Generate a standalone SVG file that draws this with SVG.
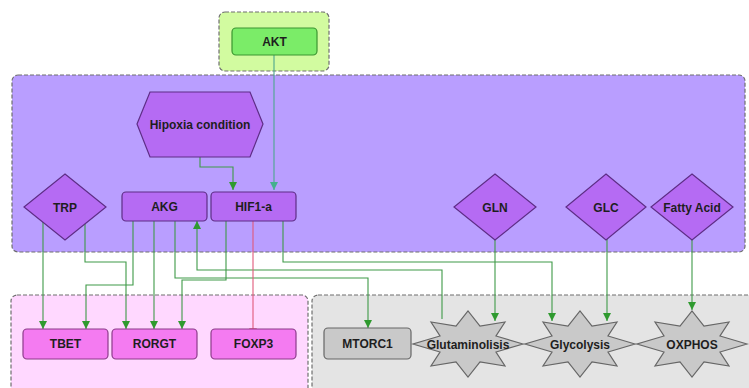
<svg xmlns="http://www.w3.org/2000/svg" width="749" height="388" viewBox="0 0 749 388">
<style>
.region{stroke:#6f6f6f;stroke-width:1.2;stroke-dasharray:4 2}
.lbl{font-family:"Liberation Sans",Arial,sans-serif;font-weight:bold;font-size:12px;fill:#1e1e1e;text-anchor:middle;dominant-baseline:central}
.pnode{fill:#b56bf3;stroke:#5e2d86;stroke-width:1.2}
.knode{fill:#f47bf1;stroke:#8c3b8a;stroke-width:1.2}
.gnode{fill:#c9c9c9;stroke:#666;stroke-width:1.2}
.anode{fill:#7bec68;stroke:#3a9530;stroke-width:1.2}
.edge{fill:none;stroke:#3f9a48;stroke-width:1.1}
.teal{stroke:#4ba68d}
.inh{fill:none;stroke:#e0587a;stroke-width:1.1}
</style>
<defs>
<marker id="arr" viewBox="0 0 10 10" refX="10" refY="5" markerWidth="8" markerHeight="8" markerUnits="userSpaceOnUse" orient="auto">
<path d="M0,0 L10,5 L0,10 z" fill="#2f9a2f"/>
</marker>
<marker id="arrT" viewBox="0 0 10 10" refX="10" refY="5" markerWidth="8" markerHeight="8" markerUnits="userSpaceOnUse" orient="auto">
<path d="M0,0 L10,5 L0,10 z" fill="#45b08e"/>
</marker>
<marker id="bar" viewBox="0 0 4 10" refX="2" refY="5" markerWidth="3" markerHeight="8" markerUnits="userSpaceOnUse" orient="auto">
<path d="M2,0 V10" stroke="#e0587a" stroke-width="2"/>
</marker>
<polygon id="star" points="55,0 28,-8 37,-22 12,-18 0,-33 -12,-18 -37,-22 -28,-8 -55,0 -28,8 -37,22 -12,18 0,33 12,18 37,22 28,8"/>
</defs>

<g id="regions">
<rect class="region" x="219" y="12" width="110" height="59" rx="6" fill="#d2fba0"/>
<rect class="region" x="12" y="75" width="733" height="177" rx="6" fill="#b99eff"/>
<rect class="region" x="11" y="295" width="297" height="110" rx="6" fill="#ffd8ff"/>
<rect class="region" x="312" y="295" width="450" height="110" rx="6" fill="#e4e4e4"/>
</g>

<g id="connectors">
<path class="edge teal" d="M274,55 V190" marker-end="url(#arrT)"/>
<path class="edge" d="M200,157 V167 H233 V190" marker-end="url(#arr)"/>
<path class="edge" d="M43,222 V329" marker-end="url(#arr)"/>
<path class="edge" d="M85,224 V262 H126 V329" marker-end="url(#arr)"/>
<path class="edge" d="M133,221 V285 H86 V329" marker-end="url(#arr)"/>
<path class="edge" d="M154,221 V329" marker-end="url(#arr)"/>
<path class="edge" d="M175,221 V278 H368 V328" marker-end="url(#arr)"/>
<path class="edge" d="M442,319 V270 H197 V221" marker-end="url(#arr)"/>
<path class="edge" d="M226,221 V280 H182 V329" marker-end="url(#arr)"/>
<path class="inh" d="M253,221 V329" marker-end="url(#bar)"/>
<path class="edge" d="M283,221 V262 H552 V321" marker-end="url(#arr)"/>
<path class="edge" d="M495,239 V321" marker-end="url(#arr)"/>
<path class="edge" d="M607,239 V321" marker-end="url(#arr)"/>
<path class="edge" d="M692,239 V310" marker-end="url(#arr)"/>
</g>

<g id="AKT"><rect class="anode" x="232" y="28" width="85" height="27" rx="4"/><text class="lbl" x="274.5" y="42">AKT</text></g>
<g id="Hipoxia"><polygon class="pnode" points="137,124 150,92 250,92 263,124 250,157 150,157"/><text class="lbl" x="200" y="125">Hipoxia condition</text></g>
<g id="TRP"><polygon class="pnode" points="65,174 106,207 65,240 24,207"/><text class="lbl" x="65" y="208">TRP</text></g>
<g id="AKG"><rect class="pnode" x="122" y="192" width="85" height="29" rx="4"/><text class="lbl" x="164.5" y="207">AKG</text></g>
<g id="HIF1a"><rect class="pnode" x="211" y="192" width="85" height="29" rx="4"/><text class="lbl" x="253.5" y="207">HIF1-a</text></g>
<g id="GLN"><polygon class="pnode" points="495,174 536,207 495,240 454,207"/><text class="lbl" x="495" y="208">GLN</text></g>
<g id="GLC"><polygon class="pnode" points="606,174 646,207 606,240 566,207"/><text class="lbl" x="606" y="208">GLC</text></g>
<g id="FattyAcid"><polygon class="pnode" points="692,174 733,207 692,240 651,207"/><text class="lbl" x="692" y="208">Fatty Acid</text></g>
<g id="TBET"><rect class="knode" x="23" y="329" width="85" height="30" rx="4"/><text class="lbl" x="65.5" y="344">TBET</text></g>
<g id="RORGT"><rect class="knode" x="112" y="329" width="85" height="30" rx="4"/><text class="lbl" x="154.5" y="344">RORGT</text></g>
<g id="FOXP3"><rect class="knode" x="211" y="329" width="85" height="30" rx="4"/><text class="lbl" x="253.5" y="344">FOXP3</text></g>
<g id="MTORC1"><rect class="gnode" x="324" y="328" width="87" height="31" rx="4"/><text class="lbl" x="367.5" y="344">MTORC1</text></g>
<g id="Glutaminolisis"><use href="#star" class="gnode" transform="translate(468,344)"/><text class="lbl" x="468" y="345">Glutaminolisis</text></g>
<g id="Glycolysis"><use href="#star" class="gnode" transform="translate(580,344)"/><text class="lbl" x="580" y="345">Glycolysis</text></g>
<g id="OXPHOS"><use href="#star" class="gnode" transform="translate(692,344)"/><text class="lbl" x="692" y="345">OXPHOS</text></g>
</svg>
